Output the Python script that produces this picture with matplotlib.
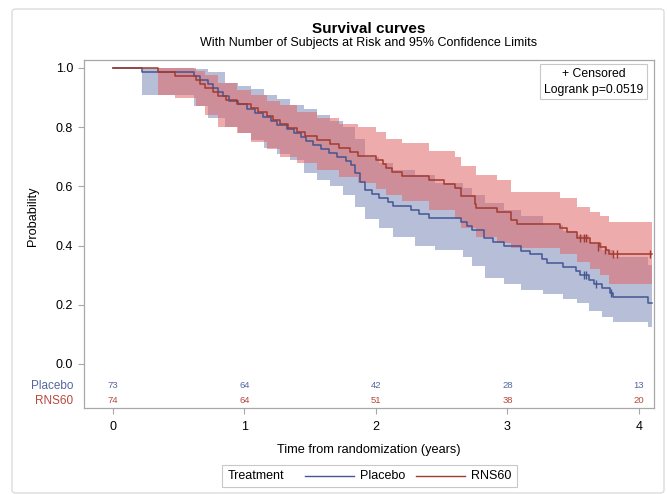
"""Kaplan-Meier survival curves, Placebo vs RNS60, with 95% bands and
number-at-risk rows under the x axis."""
import matplotlib
matplotlib.use("Agg")
import matplotlib.pyplot as plt
from matplotlib.lines import Line2D
from matplotlib.patches import FancyBboxPatch, Rectangle
import numpy as np

plt.rcParams["font.family"] = ["Liberation Sans", "DejaVu Sans"]

T_END = 4.1

# Placebo: event times (years) and survival estimate after each event
PLA_T = [0.0, 0.22, 0.62, 0.66, 0.72, 0.76, 0.80, 0.84, 0.88, 0.95, 1.02,
         1.08, 1.14, 1.20, 1.25, 1.32, 1.38, 1.43, 1.47, 1.52, 1.58, 1.64,
         1.70, 1.77, 1.81, 1.84, 1.88, 1.92, 1.97, 2.02, 2.09, 2.13, 2.27,
         2.33, 2.40, 2.65, 2.69, 2.73, 2.82, 2.89, 2.97, 3.10, 3.17, 3.26,
         3.30, 3.42, 3.52, 3.55, 3.62, 3.66, 3.72, 3.78, 3.80, 4.07]
PLA_S = [1.0, 0.986, 0.973, 0.959, 0.945, 0.932, 0.918, 0.904, 0.890,
         0.877, 0.863, 0.849, 0.836, 0.822, 0.808, 0.795, 0.781, 0.767,
         0.753, 0.740, 0.726, 0.712, 0.699, 0.685, 0.671, 0.644, 0.616,
         0.589, 0.575, 0.561, 0.547, 0.534, 0.520, 0.506, 0.493, 0.479,
         0.465, 0.452, 0.424, 0.411, 0.397, 0.383, 0.370, 0.356, 0.342,
         0.329, 0.315, 0.301, 0.285, 0.270, 0.255, 0.240, 0.225, 0.205]
PLA_CENS_T = [3.58, 3.60, 3.67, 3.79]
PLA_CENS_S = [0.301, 0.301, 0.270, 0.240]

# Placebo 95% confidence band
PLA_BAND_T = [0.0, 0.22, 0.62, 0.72, 0.85, 0.95, 1.05, 1.15, 1.25, 1.35,
              1.45, 1.55, 1.65, 1.75, 1.84, 1.92, 2.02, 2.13, 2.30, 2.45,
              2.66, 2.73, 2.83, 2.97, 3.10, 3.27, 3.42, 3.53, 3.62, 3.72,
              3.80, 4.07]
PLA_LO = [1.0, 0.91, 0.87, 0.83, 0.80, 0.78, 0.755, 0.73, 0.71, 0.69,
          0.645, 0.62, 0.60, 0.57, 0.53, 0.49, 0.46, 0.43, 0.40, 0.385,
          0.36, 0.33, 0.29, 0.27, 0.25, 0.235, 0.22, 0.205, 0.18, 0.16,
          0.14, 0.125]
PLA_HI = [1.0, 1.0, 0.995, 0.985, 0.95, 0.94, 0.93, 0.91, 0.895, 0.875,
          0.86, 0.84, 0.82, 0.80, 0.76, 0.70, 0.68, 0.655, 0.64, 0.61,
          0.595, 0.57, 0.545, 0.52, 0.50, 0.47, 0.45, 0.435, 0.41, 0.385,
          0.36, 0.335]

# RNS60
RNS_T = [0.0, 0.34, 0.47, 0.63, 0.66, 0.70, 0.76, 0.80, 0.86, 0.94, 1.05,
         1.10, 1.17, 1.22, 1.27, 1.33, 1.40, 1.46, 1.55, 1.65, 1.72, 1.80,
         1.86, 2.00, 2.05, 2.08, 2.12, 2.20, 2.40, 2.52, 2.60, 2.65, 2.75,
         2.76, 2.92, 3.03, 3.07, 3.40, 3.45, 3.53, 3.63, 3.70, 3.75, 3.77]
RNS_S = [1.0, 0.986, 0.973, 0.959, 0.946, 0.932, 0.919, 0.905, 0.892,
         0.878, 0.865, 0.851, 0.838, 0.824, 0.811, 0.797, 0.784, 0.770,
         0.757, 0.743, 0.730, 0.716, 0.703, 0.689, 0.676, 0.662, 0.649,
         0.635, 0.622, 0.608, 0.595, 0.568, 0.541, 0.527, 0.514, 0.487,
         0.473, 0.460, 0.446, 0.425, 0.410, 0.395, 0.385, 0.372]
RNS_CENS_T = [3.55, 3.58, 3.60, 3.69, 3.74, 3.80, 3.83, 4.08]
RNS_CENS_S = [0.425, 0.425, 0.425, 0.395, 0.385, 0.372, 0.372, 0.372]

RNS_BAND_T = [0.0, 0.34, 0.47, 0.63, 0.70, 0.80, 0.94, 1.05, 1.17, 1.27,
              1.40, 1.55, 1.72, 1.86, 2.00, 2.08, 2.20, 2.40, 2.60, 2.65,
              2.76, 2.92, 3.03, 3.40, 3.53, 3.63, 3.70, 3.77]
RNS_LO = [1.0, 0.91, 0.90, 0.87, 0.84, 0.80, 0.78, 0.75, 0.725, 0.70,
          0.68, 0.655, 0.63, 0.61, 0.59, 0.57, 0.55, 0.52, 0.49, 0.46,
          0.43, 0.41, 0.39, 0.37, 0.345, 0.32, 0.30, 0.27]
RNS_HI = [1.0, 1.0, 1.0, 0.99, 0.975, 0.95, 0.925, 0.91, 0.89, 0.875,
          0.85, 0.83, 0.81, 0.80, 0.785, 0.76, 0.745, 0.72, 0.70, 0.67,
          0.64, 0.62, 0.58, 0.56, 0.53, 0.515, 0.50, 0.48]

# number at risk
RISK_T = [0, 1, 2, 3, 4]
RISK_PLA = [73, 64, 42, 28, 13]
RISK_RNS = [74, 64, 51, 38, 20]

GROUPS = ["Placebo", "RNS60"]
LINE_C = {"Placebo": "#445694", "RNS60": "#A23A2E"}
FILL_C = {"Placebo": "#6F7EB3", "RNS60": "#E06666"}
FILL_A = {"Placebo": 0.5, "RNS60": 0.55}
TEXT_C = {"Placebo": "#5566A0", "RNS60": "#B5483D"}
GRAY = "#a8a8a8"

fig = plt.figure(figsize=(6.67, 4.94), dpi=100)
ax = fig.add_axes([84 / 667, 1 - 408 / 494, 570 / 667, 348 / 494])

series = {
    "Placebo": (PLA_T, PLA_S, PLA_BAND_T, PLA_LO, PLA_HI,
                PLA_CENS_T, PLA_CENS_S),
    "RNS60": (RNS_T, RNS_S, RNS_BAND_T, RNS_LO, RNS_HI,
              RNS_CENS_T, RNS_CENS_S),
}

for g in GROUPS:
    t, s, bt, lo, hi, ct, cs = series[g]
    bt_ext = list(bt) + [T_END]
    ax.fill_between(bt_ext, list(lo) + [lo[-1]], list(hi) + [hi[-1]],
                    step="post", color=FILL_C[g], alpha=FILL_A[g], lw=0)
for g in GROUPS:
    t, s, bt, lo, hi, ct, cs = series[g]
    ax.step(list(t) + [T_END], list(s) + [s[-1]], where="post",
            color=LINE_C[g], lw=1.1)
    ax.plot(ct, cs, ls="none", marker="|", ms=6, mew=1.0, color=LINE_C[g])

# at-risk rows inside the frame
row_y = {"Placebo": -0.074, "RNS60": -0.125}
risk = {"Placebo": RISK_PLA, "RNS60": RISK_RNS}
lab_tr = matplotlib.transforms.blended_transform_factory(ax.transAxes,
                                                        ax.transData)
for g in GROUPS:
    for x, n in zip(RISK_T, risk[g]):
        ax.text(x, row_y[g], str(n), ha="center", va="center",
                fontsize=6.8, color=TEXT_C[g])
    ax.text(-0.019, row_y[g], g, transform=lab_tr, ha="right",
            va="center", fontsize=8.5, color=TEXT_C[g])

ax.set_xlim(-0.22, 4.114)
ax.set_ylim(-0.149, 1.027)
ax.set_xticks(RISK_T)
ax.set_yticks([0.0, 0.2, 0.4, 0.6, 0.8, 1.0])
ax.set_yticklabels(["0.0", "0.2", "0.4", "0.6", "0.8", "1.0"])
ax.tick_params(axis="both", direction="out", length=4.3, width=0.8,
               color=GRAY, labelsize=9, pad=3.5)
ax.tick_params(axis="x", pad=5)
for sp in ax.spines.values():
    sp.set_color(GRAY)
    sp.set_linewidth(0.9)

ax.set_xlabel("Time from randomization (years)", fontsize=9.2, labelpad=8)
fig.text(33 / 667, 1 - 216 / 494, "Probability", rotation=90,
         ha="center", va="center", fontsize=9.2)

# inset text box
ax.text(0.894, 0.938, "+ Censored\nLogrank p=0.0519", transform=ax.transAxes,
        ha="center", va="center", multialignment="center", fontsize=8.8,
        linespacing=1.45,
        bbox=dict(boxstyle="square,pad=0.3", fc="white", ec="#c8c8c8",
                  lw=0.8))

fig.text(0.5533, 1 - 29 / 494, "Survival curves", ha="center",
         va="center", fontsize=11, fontweight="bold")
fig.text(0.5533, 1 - 43 / 494,
         "With Number of Subjects at Risk and 95% Confidence Limits",
         ha="center", va="center", fontsize=9)

# treatment legend along the bottom
leg_y = 1 - 476 / 494
fig.patches.append(Rectangle((222 / 667, 1 - 487 / 494), 295 / 667,
                             22 / 494, transform=fig.transFigure,
                             fill=False, ec="#c8c8c8", lw=0.8))
fig.text(228 / 667, leg_y, "Treatment", ha="left", va="center", fontsize=9)
for g, (x0, x1, xt) in zip(GROUPS, [(305, 354, 360), (416, 465, 471)]):
    fig.lines.append(Line2D([x0 / 667, x1 / 667], [leg_y, leg_y],
                            transform=fig.transFigure, color=LINE_C[g],
                            lw=1.0))
    fig.text(xt / 667, leg_y, g, ha="left", va="center", fontsize=9)

# outer graph border
fig.patches.append(FancyBboxPatch((12 / 667, 1 - 493 / 494), 652 / 667,
                                  484 / 494, boxstyle="round,pad=0,rounding_size=0.006",
                                  transform=fig.transFigure, fill=False,
                                  ec="#dcdcdc", lw=1.0))

fig.savefig("out.png", dpi=100)
